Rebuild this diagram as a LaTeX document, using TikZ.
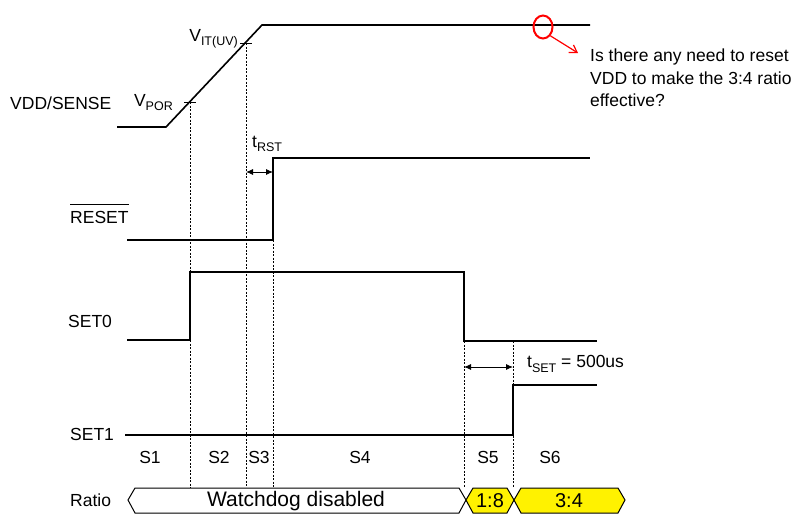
\documentclass[tikz,border=0pt]{standalone}
\usepackage{fontspec}
\setmainfont{Liberation Sans}
\usetikzlibrary{arrows.meta,calc,shapes.geometric}
\begin{document}
\begin{tikzpicture}[x=1pt,y=-1pt,
  sig/.style={line width=1.6pt},
  guide/.style={line width=0.5pt, dash pattern=on 2pt off 1.5pt},
  lbl/.style={font=\fontsize{17.5}{21}\selectfont, inner sep=0pt},
  slbl/.style={font=\fontsize{17.5}{21}\selectfont, inner sep=0pt},
  dim/.style={line width=0.9pt, {Latex[length=7pt,width=6pt]}-{Latex[length=7pt,width=6pt]}},
  busw/.style={draw, line width=1pt, fill=white},
  busy/.style={draw, line width=1pt, fill=yellow},
]
\useasboundingbox (0,0) rectangle (812,523);
\newcommand{\sub}[1]{\raisebox{-0.45ex}{\fontsize{12.5}{13}\selectfont #1}}

% ---- coordinates
\coordinate (vddA) at (117,127);
\coordinate (vddB) at (166,127);
\coordinate (vddC) at (262,25);
\coordinate (vddD) at (590,25);
\coordinate (por) at (190,102);
\coordinate (vit) at (246,43);

% ---- signal labels
\node[lbl, anchor=west] (lvdd) at (10,103) {VDD/SENSE};
\node[lbl, anchor=base west] (lrst) at (70,223) {$\overline{\mbox{\rule{0pt}{0.98em}RESET}}$};
\node[lbl, anchor=west] (lset0) at (68,321) {SET0};
\node[lbl, anchor=west] (lset1) at (70,434) {SET1};
\node[lbl, anchor=west] (lratio) at (70,500) {Ratio};

% ---- VDD
\draw[sig] (vddA) -- (vddB) -- (vddC) -- (vddD);
\draw[line width=0.8pt] ($(por)+(-6,0)$) -- ++(12,0);
\draw[line width=0.8pt] ($(vit)+(-6,0)$) -- ++(12,0);
\node[lbl, anchor=south east] (lpor) at (173,111) {V\sub{POR}};
\node[lbl, anchor=south east] (lvit) at (238,48) {V\sub{IT(UV)}};

% ---- RESET
\coordinate (r1) at (127,240);
\coordinate (r2) at (273,240);
\coordinate (r3) at (273,158);
\coordinate (r4) at (590,158);
\draw[sig] (r1) -- (r2) -- (r3) -- (r4);

% ---- SET0
\coordinate (s01) at (127,340);
\coordinate (s02) at (190,340);
\coordinate (s03) at (190,272);
\coordinate (s04) at (464,272);
\coordinate (s05) at (464,341);
\coordinate (s06) at (597,341);
\draw[sig] (s01) -- (s02) -- (s03) -- (s04) -- (s05) -- (s06);

% ---- SET1
\coordinate (s11) at (125,435);
\coordinate (s12) at (513,435);
\coordinate (s13) at (513,385);
\coordinate (s14) at (597,385);
\draw[sig] (s11) -- (s12) -- (s13) -- (s14);

% ---- guides
\coordinate (g1) at (190,488);
\coordinate (g2) at (246,488);
\coordinate (g3) at (273,488);
\coordinate (g4) at (464,488);
\coordinate (g5) at (513,488);
\coordinate (g5t) at (513,341);
\draw[guide] (por) -- (g1);
\draw[guide] (vit) -- (g2);
\draw[guide] (r2) -- (g3);
\draw[guide] (s05) -- (g4);
\draw[guide] (g5t) -- (g5);

% ---- timing dims
\coordinate (ta) at (246,172);
\coordinate (tb) at (273,172);
\draw[dim] (ta) -- (tb);
\node[lbl, anchor=south west] (ltrst) at (252,152) {t\sub{RST}};
\coordinate (sa) at (464,367);
\coordinate (sb) at (513,367);
\draw[dim] (sa) -- (sb);
\node[lbl, anchor=west] (ltset) at (527,364) {t\sub{SET} = 500us};

% ---- state labels
\node[slbl] (S1) at (150,457) {S1};
\node[slbl] (S2) at (219,457) {S2};
\node[slbl] (S3) at (259,457) {S3};
\node[slbl] (S4) at (360,457) {S4};
\node[slbl] (S5) at (488,457) {S5};
\node[slbl] (S6) at (550,457) {S6};

% ---- ratio bus
\draw[busw] (128,500) -- (135,488) -- (459,488) -- (466,500) -- (459,513) -- (135,513) -- cycle;
\draw[busy] (466,500) -- (473,488) -- (507,488) -- (514,500) -- (507,513) -- (473,513) -- cycle;
\draw[busy] (514,500) -- (521,488) -- (618,488) -- (625,500) -- (618,513) -- (521,513) -- cycle;
\node[font=\fontsize{21}{24}\selectfont, inner sep=0pt] (wd) at (296,501) {Watchdog disabled};
\node[font=\fontsize{20}{24}\selectfont, inner sep=0pt] (r18) at (490,501) {1:8};
\node[font=\fontsize{20}{24}\selectfont, inner sep=0pt] (r34) at (569,501) {3:4};

% ---- annotation
\node[draw=red, line width=2pt, ellipse, minimum width=19pt, minimum height=23pt, inner sep=0pt] (circ) at (543,27) {};
\node[lbl, anchor=north west, align=left, font=\fontsize{17.5}{22.5}\selectfont] (note) at (590,49) {Is there any need to reset\\VDD to make the 3:4 ratio\\effective?};
\coordinate (arrowtip) at (578,53);
\draw[red, line width=1.2pt, -{Straight Barb[length=7pt,width=9pt]}] (circ.south east) -- (arrowtip);
\end{tikzpicture}
\end{document}
